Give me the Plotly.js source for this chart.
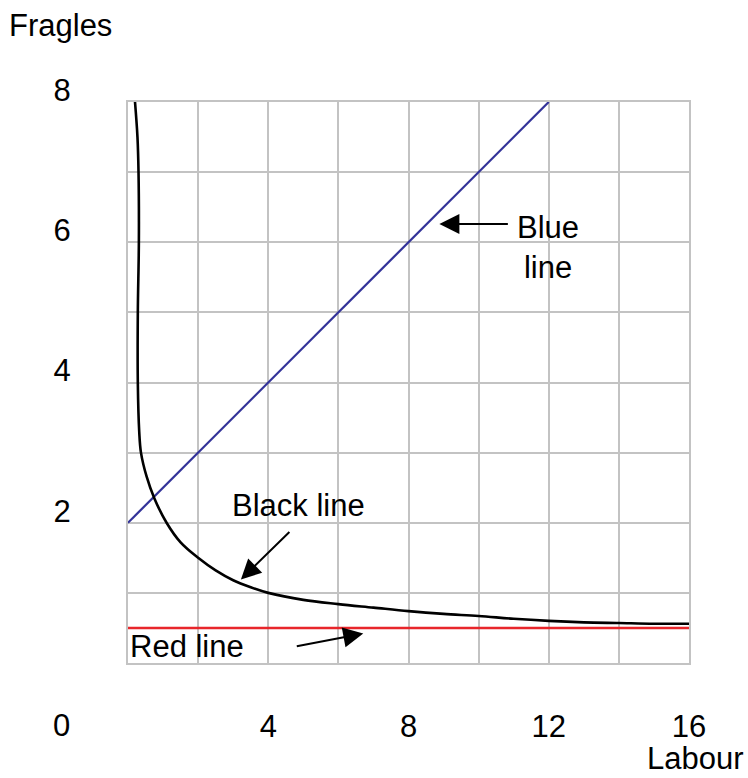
<!DOCTYPE html>
<html>
<head>
<meta charset="utf-8">
<script src="https://cdn.plot.ly/plotly-3.0.1.min.js"></script>
<style>html,body{margin:0;padding:0;background:#fff;}#chart{width:748px;height:778px;}</style>
</head>
<body>
<div id="chart"></div>
<script>
// ---- data ----
var blackX = [0.2, 0.27, 0.3, 0.31, 0.28, 0.28, 0.32, 0.37, 0.53, 0.75, 1.1, 1.5, 2.0, 2.5, 3.0, 3.5, 4.0, 5.0, 6.0, 7.0, 8.0, 9.0, 10.0, 11.0, 12.0, 13.0, 14.0, 15.0, 16.0];
var blackY = [8.0, 7.5, 7.0, 6.0, 5.0, 4.0, 3.3, 3.0, 2.66, 2.35, 2.0, 1.72, 1.5, 1.32, 1.18, 1.08, 1.0, 0.9, 0.84, 0.79, 0.74, 0.7, 0.67, 0.63, 0.6, 0.58, 0.57, 0.56, 0.56];
var blueX = [0, 12];
var blueY = [2, 8];
var redX = [0, 16];
var redY = [0.5, 0.5];
var xTickVals = [0, 2, 4, 6, 8, 10, 12, 14, 16];
var xTickText = ['', '', '4', '', '8', '', '12', '', '16'];
var yTickVals = [0, 1, 2, 3, 4, 5, 6, 7, 8];
var yTickText = ['', '', '2', '', '4', '', '6', '', '8'];
var xTitle = 'Labour';
var yTitle = 'Fragles';
var originLabel = '0';

var FONT = 'Liberation Sans, Arial, sans-serif';
var FS = 31;

var traces = [
  {x: redX, y: redY, mode: 'lines', line: {color: '#e8262b', width: 2.6}, hoverinfo: 'skip'},
  {x: blueX, y: blueY, mode: 'lines', line: {color: '#333399', width: 2.2}, hoverinfo: 'skip'},
  {x: blackX, y: blackY, mode: 'lines', line: {color: '#000000', width: 2.6, shape: 'spline', smoothing: 1}, hoverinfo: 'skip'}
];

function arrow(x, y, ax, ay) {
  return {x: x, y: y, xref: 'x', yref: 'y', ax: ax, ay: ay, text: '', showarrow: true,
          arrowhead: 2, arrowsize: 2, arrowwidth: 2, arrowcolor: '#000'};
}
function label(text, x, y, xanchor, xref, yref, yanchor) {
  return {x: x, y: y, xref: xref || 'x', yref: yref || 'y', text: text, showarrow: false,
          xanchor: xanchor || 'center', yanchor: yanchor || 'middle', font: {family: FONT, size: FS, color: '#000'}};
}

var layout = {
  width: 748, height: 778,
  margin: {l: 128, r: 59, t: 102, b: 115, pad: 0},
  paper_bgcolor: '#fff', plot_bgcolor: '#fff',
  showlegend: false,
  font: {family: FONT, size: FS, color: '#000'},
  xaxis: {
    range: [0, 16], tickmode: 'array', tickvals: xTickVals, ticktext: xTickText,
    showgrid: true, gridcolor: '#c3c3c3', gridwidth: 2,
    zeroline: false, showline: true, linecolor: '#c3c3c3', linewidth: 2, mirror: true,
    ticks: '', ticklabelstandoff: 35,
    tickfont: {family: FONT, size: FS, color: '#000'}, fixedrange: true
  },
  yaxis: {
    range: [0, 8], tickmode: 'array', tickvals: yTickVals, ticktext: yTickText,
    showgrid: true, gridcolor: '#c3c3c3', gridwidth: 2,
    zeroline: false, showline: true, linecolor: '#c3c3c3', linewidth: 2, mirror: true,
    ticks: '', ticklabelstandoff: 49, ticklabelshift: -12,
    tickfont: {family: FONT, size: FS, color: '#000'}, fixedrange: true
  },
  annotations: [
    arrow(8.88, 6.26, 70, 0),
    label('Blue<br>line', 11.04, 5.93, 'left'),
    arrow(3.22, 1.19, 50, -49),
    label('Black line', 2.91, 2.24, 'left'),
    arrow(6.71, 0.42, -68, 13),
    label('Red line', 0.0, 0.24, 'left'),
    label(yTitle, -0.1195, 1.137, 'center', 'paper', 'paper'),
    label(xTitle, 1.011, -0.205, 'center', 'paper', 'paper', 'bottom'),
    label(originLabel, -0.1186, -0.1114, 'center', 'paper', 'paper')
  ]
};

Plotly.newPlot('chart', traces, layout, {displayModeBar: false, staticPlot: true});
</script>
</body>
</html>
